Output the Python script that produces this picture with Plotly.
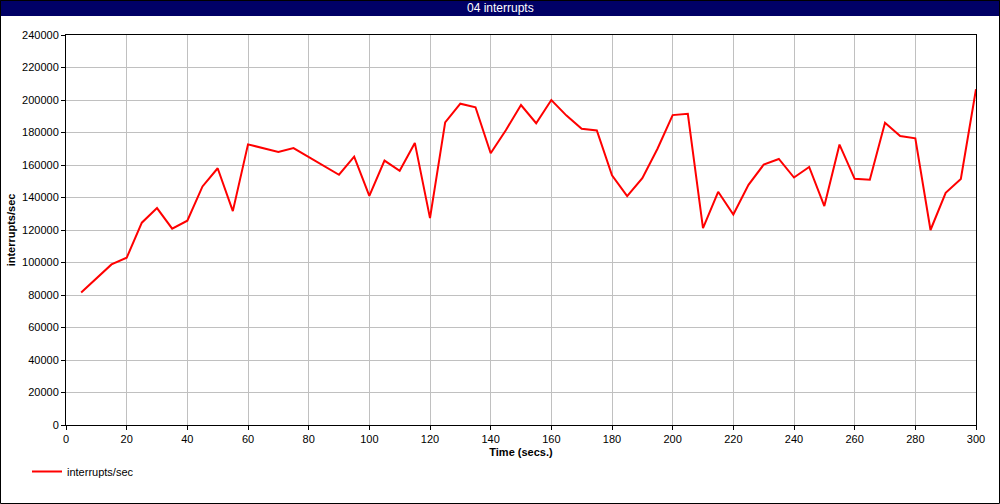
import plotly.graph_objects as go

time_s = list(range(5, 301, 5))
interrupts = [
    81600, 90000, 98800, 102900, 124500, 133500, 120800, 125700, 146800, 158000,
    131600, 172700, 170300, 168000, 170400, 164800, 159200, 154000, 165100, 141000,
    162700, 156400, 173600, 127300, 186200, 197700, 195500, 167200, 181400, 196900,
    185700, 200000, 190400, 182300, 181300, 153700, 140800, 151900, 170000, 190700,
    191500, 121200, 143500, 129500, 147800, 160200, 163700, 152300, 158800, 134700,
    172600, 151500, 150900, 186000, 177800, 176400, 120000, 142900, 151400, 206600,
]
x_ticks = list(range(0, 301, 20))
y_ticks = list(range(0, 240001, 20000))

FONT = "Liberation Sans, Arial, sans-serif"
W, H = 1000, 504
ML, MR, MT, MB = 66, 24, 35, 79
PW, PH = W - ML - MR, H - MT - MB

def px2x(px):
    return (px - ML) / PW

def py2y(py):
    return (H - MB - py) / PH

fig = go.Figure()
fig.add_trace(go.Scatter(
    x=time_s, y=interrupts, mode="lines", name="interrupts/sec",
    line=dict(color="#ff0000", width=2),
))

fig.update_layout(
    width=W, height=H,
    margin=dict(l=ML, r=MR, t=MT, b=MB, autoexpand=False),
    paper_bgcolor="white", plot_bgcolor="white",
    font=dict(family=FONT, size=11, color="black"),
    showlegend=True,
    legend=dict(
        orientation="h", x=px2x(27), y=py2y(457), xanchor="left", yanchor="top",
        font=dict(family=FONT, size=11, color="black"), bgcolor="rgba(0,0,0,0)",
        itemwidth=30,
    ),
    xaxis=dict(
        range=[0, 300], tickvals=x_ticks, ticks="outside", ticklen=4,
        tickcolor="black", showline=True, linecolor="black", linewidth=1,
        mirror=True, showgrid=True, gridcolor="#c0c0c0", gridwidth=1,
        zeroline=False, automargin=False,
        title=dict(text="<b>Time (secs.)</b>", standoff=4,
                   font=dict(family=FONT, size=11)),
        tickfont=dict(family=FONT, size=11),
    ),
    yaxis=dict(
        range=[0, 240000], tickvals=y_ticks, ticks="outside", ticklen=4,
        tickcolor="black", showline=True, linecolor="black", linewidth=1,
        mirror=True, showgrid=True, gridcolor="#c0c0c0", gridwidth=1,
        zeroline=False, tickformat="d", automargin=False,
        title=dict(text="<b>interrupts/sec</b>", standoff=4,
                   font=dict(family=FONT, size=11)),
        tickfont=dict(family=FONT, size=11),
    ),
    shapes=[
        dict(type="rect", xref="paper", yref="paper",
             x0=px2x(0), x1=px2x(W), y0=py2y(16), y1=py2y(0),
             fillcolor="#000066", line=dict(width=0), layer="above"),
        dict(type="rect", xref="paper", yref="paper",
             x0=px2x(0.5), x1=px2x(W - 0.5), y0=py2y(H - 0.5), y1=py2y(0.5),
             fillcolor="rgba(0,0,0,0)", line=dict(color="black", width=1)),
    ],
    annotations=[
        dict(text="04 interrupts", xref="paper", yref="paper",
             x=px2x(500), y=py2y(8), xanchor="center", yanchor="middle",
             showarrow=False, font=dict(family=FONT, size=12, color="white")),
    ],
)

fig.write_html(
    "out.html",
    config={"displayModeBar": False},
    post_script="document.body.style.margin='0';document.body.style.padding='0';",
)
